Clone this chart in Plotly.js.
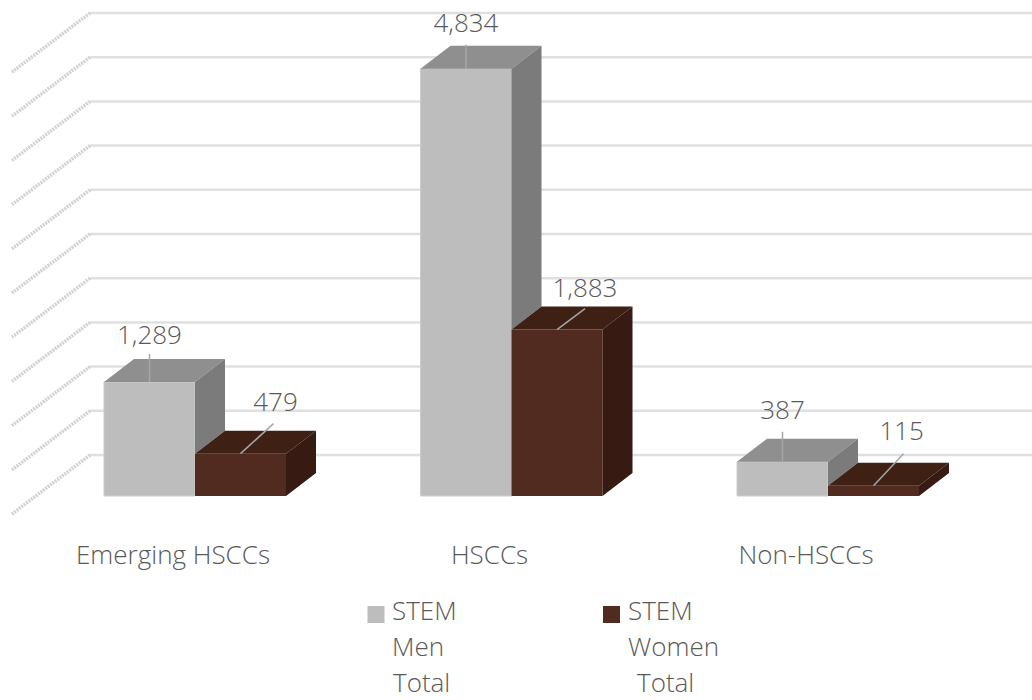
<!DOCTYPE html>
<html><head><meta charset="utf-8">
<script src="https://cdn.plot.ly/plotly-3.0.1.min.js"></script>
<style>html,body{margin:0;padding:0;background:#fff}#chart{width:1032px;height:700px}</style>
</head><body><div id="chart"></div>
<script>
const categories = ["Emerging HSCCs", "HSCCs", "Non-HSCCs"];
const menValues = [1289, 4834, 387];
const womenValues = [479, 1883, 115];
const gridValues = [0, 500, 1000, 1500, 2000, 2500, 3000, 3500, 4000, 4500, 5000];
const menLegend = ["STEM", "Men", "Total"];
const womenLegend = ["STEM", "Women", "Total"];

// pixel scale of the reference
const pxPerCat = 316.5, pxPerVal = 0.0884, originX = 195, originY = 496;
const X = px => (px - originX) / pxPerCat;
const Y = py => (originY - py) / pxPerVal;
const dX = px => px / pxPerCat, dY = px => px / pxPerVal;
const barW = 91 / pxPerCat, depthX = dX(30), depthY = dY(23), wallLift = dY(41);
const FONT = '"Open Sans", sans-serif', TXT = '#595959', FS = 26;

function poly(list, build) {
  const xs = [], ys = [];
  list.forEach((v, i) => { build(v, i).forEach(p => { xs.push(p[0]); ys.push(p[1]); }); xs.push(null); ys.push(null); });
  return { x: xs, y: ys };
}
function face(p, color) {
  return { type: 'scatter', mode: 'lines', x: p.x, y: p.y, fill: 'toself', fillcolor: color,
    line: { width: 0, color: color }, showlegend: false, hoverinfo: 'skip' };
}
const idx = categories.map((_, i) => i);

const menTop = poly(menValues, (v, i) => [[i - barW, v], [i - barW + depthX, v + depthY], [i + depthX, v + depthY], [i, v], [i - barW, v]]);
const menSide = poly(menValues, (v, i) => [[i, v], [i + depthX, v + depthY], [i + depthX, womenValues[i] + depthY], [i, womenValues[i]], [i, v]]);
const womenTop = poly(womenValues, (v, i) => [[i, v], [i + depthX, v + depthY], [i + barW + depthX, v + depthY], [i + barW, v], [i, v]]);
const womenSide = poly(womenValues, (v, i) => [[i + barW, v], [i + barW + depthX, v + depthY], [i + barW + depthX, depthY], [i + barW, 0], [i + barW, v]]);

// leader lines and label offsets in pixels from each bar's top centre
const menRise = [28, 24, 30], menLabelLift = [47, 45, 51];
const womenRun = [33, 28, 30], womenRise = [30, 21, 32], womenLabelRun = [35, 28, 28], womenLabelLift = [51, 41, 54];

const menLeader = poly(menValues, (v, i) => [[i - barW / 2, v], [i - barW / 2, v + dY(menRise[i])]]);
const womenLeader = poly(womenValues, (v, i) => [[i + barW / 2, v], [i + barW / 2 + dX(womenRun[i]), v + dY(womenRise[i])]]);
const leader = p => ({ type: 'scatter', mode: 'lines', x: p.x, y: p.y, line: { color: '#a6a6a6', width: 1.5 }, showlegend: false, hoverinfo: 'skip' });

const fmt = v => v.toLocaleString('en-US');
const labelTrace = (xs, ys, vals) => ({ type: 'scatter', mode: 'text', x: xs, y: ys, text: vals.map(fmt),
  textposition: 'middle center', textfont: { family: FONT, size: FS, color: TXT, weight: 300 }, cliponaxis: false, showlegend: false, hoverinfo: 'skip' });

const swatch = (px, py, color, name) => ({ type: 'scatter', mode: 'markers', x: [X(px)], y: [Y(py)], name: name,
  marker: { symbol: 'square', size: 17, color: color }, showlegend: false, hoverinfo: 'skip' });

const data = [
  { type: 'bar', name: 'STEM Men Total', x: idx, y: menValues, marker: { color: '#bdbdbd', line: { color: '#cccccc', width: 1 } }, hoverinfo: 'skip' },
  { type: 'bar', name: 'STEM Women Total', x: idx, y: womenValues, marker: { color: '#522b20', line: { width: 0 } }, hoverinfo: 'skip' },
  face(menTop, '#8f8f8f'), face(menSide, '#7b7b7b'),
  face(womenTop, '#3f2015'), face(womenSide, '#371b12'),
  leader(menLeader), leader(womenLeader),
  labelTrace(idx.map(i => i - barW / 2), menValues.map((v, i) => v + dY(menLabelLift[i] - 2)), menValues),
  labelTrace(idx.map(i => i + barW / 2 + dX(womenLabelRun[i])), womenValues.map((v, i) => v + dY(womenLabelLift[i] - 2)), womenValues),
  swatch(376, 614.5, '#bdbdbd', 'STEM Men Total'),
  swatch(611.5, 614.5, '#522b20', 'STEM Women Total')
];

const shapes = [];
gridValues.forEach(g => {
  const yb = g + wallLift;
  shapes.push({ type: 'line', layer: 'below', xref: 'x', yref: 'y', x0: X(90), x1: X(1032), y0: yb, y1: yb, line: { color: '#e0e0e0', width: 2.5 } });
  shapes.push({ type: 'line', layer: 'below', xref: 'x', yref: 'y', x0: X(90), x1: X(12), y0: yb, y1: yb - dY(59), line: { color: '#d2d2d2', width: 3.5, dash: '2px,1px' } });
});

const legendLine = (text, px, py) => ({ xref: 'x', yref: 'y', x: X(px), y: Y(py), text: text, showarrow: false,
  xanchor: 'left', yanchor: 'middle', xshift: 0, font: { family: FONT, size: FS, color: TXT, weight: 300 } });
const legendRows = [610, 646, 682];
const menStart = [390, 390, 391], womenStart = [626, 626, 635];
const annotations = [
  ...menLegend.map((t, i) => legendLine(t, menStart[i], legendRows[i])),
  ...womenLegend.map((t, i) => legendLine(t, womenStart[i], legendRows[i]))
];

const layout = {
  width: 1032, height: 700, margin: { l: 0, r: 0, t: 0, b: 0 },
  paper_bgcolor: '#fff', plot_bgcolor: '#fff', showlegend: false, hovermode: false,
  barmode: 'group', bargap: 1 - 2 * barW, bargroupgap: 0,
  xaxis: { range: [X(0), X(1032)], tickmode: 'array', tickvals: idx.map(i => i - dX(22)), ticktext: categories, anchor: 'free', position: (700 - 537) / 700,
    showgrid: false, zeroline: false, showline: false, ticks: '', tickfont: { family: FONT, size: FS, color: TXT, weight: 300 } },
  yaxis: { range: [Y(700), Y(0)], visible: false, showgrid: false, zeroline: false },
  shapes: shapes, annotations: annotations
};
Plotly.newPlot('chart', data, layout, { displayModeBar: false, staticPlot: true });
</script></body></html>
